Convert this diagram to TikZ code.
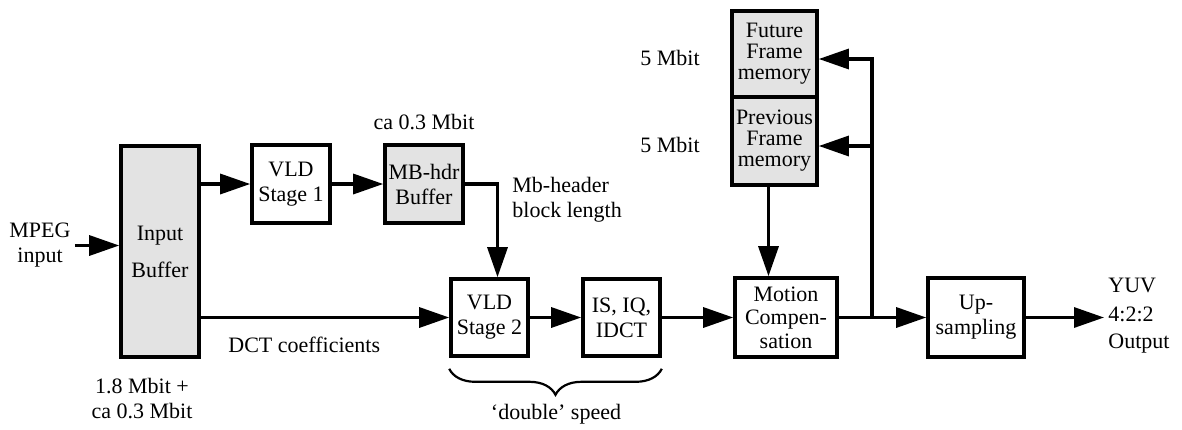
\documentclass[tikz,border=0pt]{standalone}
\usepackage{fontspec}
\setmainfont{Liberation Serif}
\usetikzlibrary{arrows.meta,positioning}
\usetikzlibrary{decorations.pathreplacing}

\tikzset{
	blk/.style={draw, line width=1.8pt, align=center, inner sep=1pt, font=\fontsize{11}{12.5}\selectfont},
	memblk/.style={blk, fill=black!11},
	flow/.style={line width=1.6pt, -{Triangle[length=15pt,width=10pt]}},
	lbl/.style={align=center, inner sep=2pt, font=\fontsize{11}{12.5}\selectfont}
}

\begin{document}
\begin{tikzpicture}[x=0.5pt,y=0.5pt,yscale=-1,xscale=1]
	\useasboundingbox (0,0) rectangle (1182,429);
	
	%Shape: Input buffer
	\node [memblk, minimum width=39pt, minimum height=105.5pt] (inbuf) at (160,251.5) {Input\\[6pt]Buffer};
	%Shape: VLD stage 1
	\node [blk, minimum width=39pt, minimum height=39pt] (vld1) at (291,184) {VLD\\Stage 1};
	%Shape: MB header buffer
	\node [memblk, minimum width=39pt, minimum height=39pt] (mbbuf) at (424,184) {MB-hdr\\Buffer};
	%Shape: VLD stage 2
	\node [blk, minimum width=38.5pt, minimum height=38.5pt] (vld2) at (489.5,317.5) {VLD\\Stage 2};
	%Shape: IS, IQ, IDCT
	\node [blk, minimum width=38.5pt, minimum height=38.5pt] (idct) at (621.5,317.5) {IS, IQ,\\IDCT};
	%Shape: Motion compensation
	\node [blk, minimum width=51pt, minimum height=39.5pt, font=\fontsize{11}{11.8}\selectfont] (mc) at (786,317.5) {Motion\\Compen-\\sation};
	%Shape: Future frame memory
	\node [memblk, minimum width=42.5pt, minimum height=43pt, font=\fontsize{11}{10.5}\selectfont] (future) at (774.5,54) {Future\\Frame\\memory};
	%Shape: Previous frame memory
	\node [memblk, minimum width=42.5pt, minimum height=44pt, font=\fontsize{11}{10.5}\selectfont] (prev) at (774.5,141) {Previous\\Frame\\memory};
	%Shape: Up-sampling
	\node [blk, minimum width=48pt, minimum height=39.5pt] (ups) at (976,317.5) {Up-\\sampling};
	
	% Text Node
	\node [lbl] (mpeg) at (40,245.5) {MPEG\\input};
	% Text Node
	\node [lbl] (inbufsize) at (142,398.5) {1.8 Mbit +\\ca 0.3 Mbit};
	% Text Node
	\node [lbl] (mbsize) at (424,122) {ca 0.3 Mbit};
	% Text Node
	\node [lbl, anchor=west] (dctlbl) at (224,345) {DCT coefficients};
	% Text Node
	\node [lbl, align=left, anchor=west] (hdrlbl) at (508,200) {Mb-header\\block length};
	% Text Node
	\node [lbl] (futsize) at (670,58) {5 Mbit};
	% Text Node
	\node [lbl] (prevsize) at (670,145) {5 Mbit};
	% Text Node
	\node [lbl, align=left, anchor=west] (yuv) at (1104,316) {YUV\\[2pt]4:2:2\\[1pt]Output};
	% Text Node
	\node [lbl] (speed) at (556,414) {`double' speed};
	
	%Straight Lines
	\draw [flow] (mpeg.east) -- (mpeg.east -| inbuf.west);
	\draw [flow] (inbuf.east |- vld1.west) -- (vld1.west);
	\draw [flow] (vld1) -- (mbbuf);
	\draw [flow] (mbbuf.east) -| ([xshift=4pt]vld2.north);
	\draw [flow] (inbuf.east |- vld2.west) -- (vld2.west);
	\draw [flow] (vld2) -- (idct);
	\draw [flow] (idct) -- (mc);
	\draw [flow] ([xshift=-3pt]prev.south) -- ([xshift=-3pt]prev.south |- mc.north);
	\draw [flow] (mc) -- (ups);
	\coordinate (split) at (872,317.5);
	\draw [flow] (split) |- ([yshift=2.5pt]future.east);
	\draw [flow] (split) |- ([yshift=2.5pt]prev.east);
	\draw [flow] (ups.east) -- (ups.east -| yuv.west);
	
	%Brace
	\draw [line width=1.1pt, decorate, decoration={brace, mirror, amplitude=13pt}] ([yshift=5.5pt]vld2.south west) -- ([yshift=5.5pt]idct.south east);
	
\end{tikzpicture}
\end{document}
